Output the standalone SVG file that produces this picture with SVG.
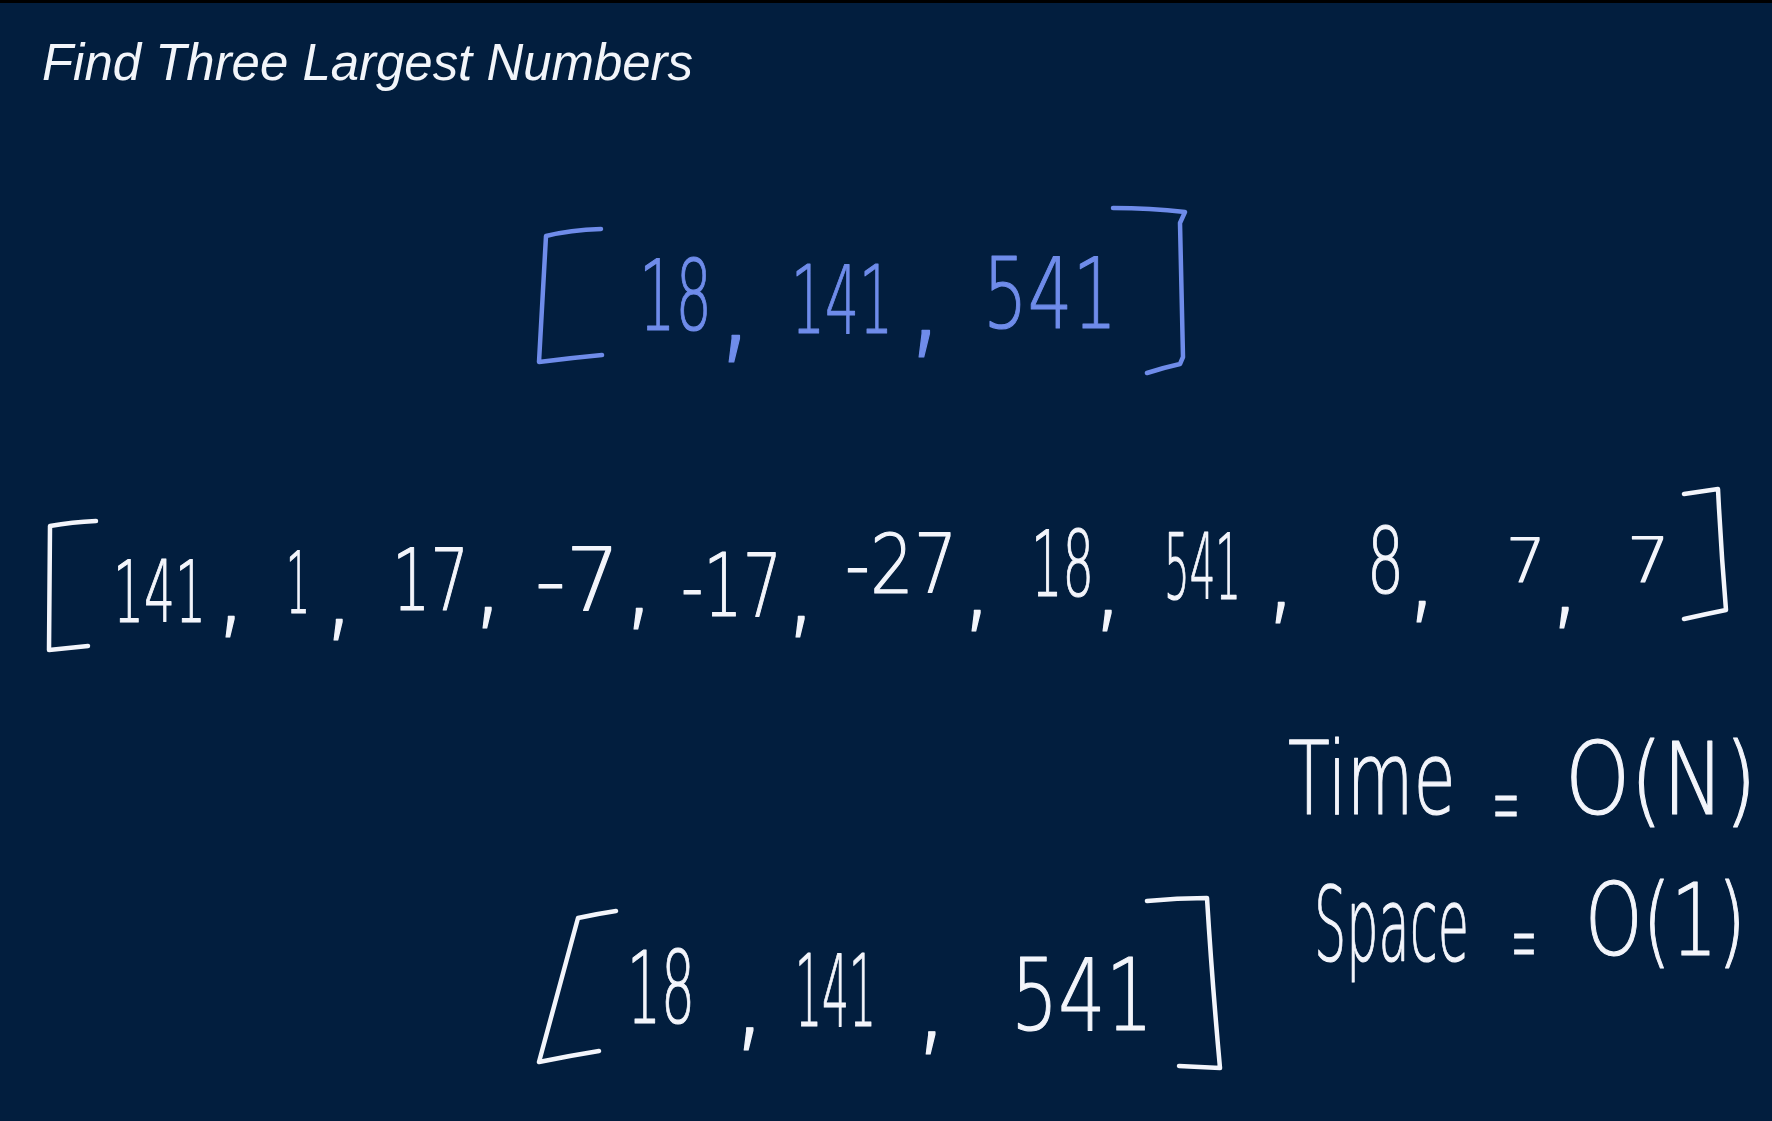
<svg xmlns="http://www.w3.org/2000/svg" width="1772" height="1121" viewBox="0 0 1772 1121">
<style>
.bg{fill:#021e3e}
.title{font-family:"Liberation Sans",Arial,sans-serif;font-style:italic;font-size:52px;fill:#f2f5fa}
.hw{font-family:"DejaVu Sans","Noto Sans",sans-serif;font-weight:200;stroke-width:1.2;stroke-linejoin:round}
.w{fill:#f3f5fb;stroke:#f3f5fb}
.b{fill:#6f8cea;stroke:#6f8cea}
.br{fill:none;stroke-width:4.5;stroke-linecap:round;stroke-linejoin:round}
.bw{stroke:#f3f5fb}
.bb{stroke:#6f8cea}
.cm{font-size:150px}
.cs{font-size:115px}
.cb{font-size:125px}
</style>
<rect class="bg" x="0" y="0" width="1772" height="1121"/>
<rect x="0" y="0" width="1772" height="3" fill="#000"/>
<text class="title" x="42" y="80" textLength="651" lengthAdjust="spacingAndGlyphs">Find Three Largest Numbers</text>

<g id="result-top">
<path class="br bb" d="M601 229 Q570 230 546 236 L539 362 Q570 358 602 355"/>
<path class="br bb" d="M1113 208 Q1150 208 1185 212 L1180 223 L1183 357 L1180 364 Q1162 368 1147 373"/>
<g class="hw b">
<text transform="translate(639 330) scale(0.585 1)" font-size="98">18</text>
<text class="cm" x="712" y="345">,</text>
<text transform="translate(791 333) scale(0.569 1)" font-size="94">141</text>
<text class="cm" x="902" y="340">,</text>
<text transform="translate(983 328) scale(0.717 1)" font-size="98">541</text>
</g>
</g>

<g id="input-array">
<path class="br bw" d="M96 521 Q72 522 50 526 L49 650 Q68 648 88 646"/>
<path class="br bw" d="M1684 494 L1718 489 Q1721 550 1726 610 Q1706 614 1684 619"/>
<g class="hw w">
<text transform="translate(113 622) scale(0.573 1)" font-size="85">141</text>
<text class="cs" x="213" y="624">,</text>
<text transform="translate(286 613) scale(0.444 1)" font-size="85">1</text>
<text class="cs" x="321" y="627">,</text>
<text transform="translate(392 610) scale(0.712 1)" font-size="85">17</text>
<text class="cs" x="470" y="615">,</text>
<text transform="translate(535 610) scale(0.969 1)" font-size="88">-7</text>
<text class="cs" x="621" y="616">,</text>
<text transform="translate(681 616) scale(0.703 1)" font-size="88">-17</text>
<text class="cs" x="783" y="624">,</text>
<text transform="translate(845 593) scale(0.842 1)" font-size="82">-27</text>
<text class="cs" x="959" y="618">,</text>
<text transform="translate(1031 596) scale(0.55 1)" font-size="90">18</text>
<text class="cs" x="1090" y="618">,</text>
<text transform="translate(1164 599) scale(0.448 1)" font-size="90">541</text>
<text class="cs" x="1263" y="610">,</text>
<text transform="translate(1367 593) scale(0.647 1)" font-size="90">8</text>
<text class="cs" x="1404" y="609">,</text>
<text transform="translate(1506 582) scale(1.047 1)" font-size="60">7</text>
<text class="cs" x="1547" y="615">,</text>
<text transform="translate(1627 582) scale(1.09 1)" font-size="62">7</text>
</g>
</g>

<g id="complexity">
<g class="hw w">
<text transform="translate(1288 814) scale(0.679 1)" font-size="101">Time</text>
<text transform="translate(1492 837) scale(0.334 1)" font-size="100">=</text>
<text transform="translate(1565 814) scale(0.829 1)" font-size="100">O(N)</text>
<text transform="translate(1314 961) scale(0.489 1)" font-size="104">Space</text>
<text transform="translate(1511 975) scale(0.31 1)" font-size="100">=</text>
<text transform="translate(1585 955) scale(0.731 1)" font-size="100">O(1)</text>
</g>
</g>

<g id="result-bottom">
<path class="br bw" d="M616 911 Q596 914 578 918 L539 1062 Q568 1056 599 1051"/>
<path class="br bw" d="M1147 901 Q1177 898 1207 898 Q1212 980 1220 1068 Q1200 1067 1179 1066"/>
<g class="hw w">
<text transform="translate(627 1023) scale(0.535 1)" font-size="100">18</text>
<text class="cb" x="730" y="1035">,</text>
<text transform="translate(795 1026) scale(0.425 1)" font-size="100">141</text>
<text class="cb" x="912" y="1039">,</text>
<text transform="translate(1011 1030) scale(0.744 1)" font-size="100">541</text>
</g>
</g>
</svg>
